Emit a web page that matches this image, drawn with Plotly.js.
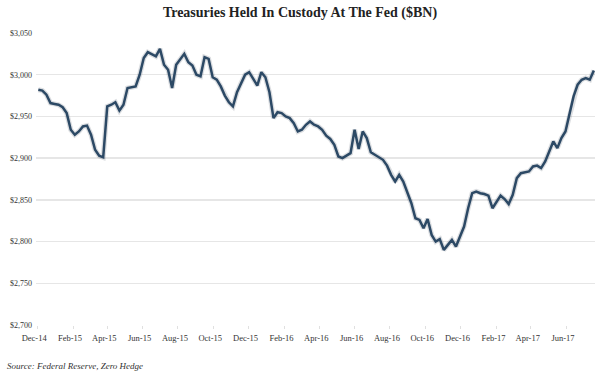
<!DOCTYPE html>
<html>
<head>
<meta charset="utf-8">
<script src="https://cdn.plot.ly/plotly-3.0.1.min.js"></script>
<style>html,body{margin:0;padding:0;background:#fff;}#chart{width:600px;height:382px;}</style>
</head>
<body>
<div id="chart"></div>
<script>
const dates = [
"2014-12-03","2014-12-10","2014-12-17","2014-12-24","2014-12-31","2015-01-07","2015-01-14","2015-01-21","2015-01-28","2015-02-04",
"2015-02-11","2015-02-18","2015-02-25","2015-03-04","2015-03-11","2015-03-18","2015-03-25","2015-04-01","2015-04-08","2015-04-15",
"2015-04-22","2015-04-29","2015-05-06","2015-05-13","2015-05-20","2015-05-27","2015-06-03","2015-06-10","2015-06-17","2015-06-24",
"2015-07-01","2015-07-08","2015-07-15","2015-07-22","2015-07-29","2015-08-05","2015-08-12","2015-08-19","2015-08-26","2015-09-02",
"2015-09-09","2015-09-16","2015-09-23","2015-09-30","2015-10-07","2015-10-14","2015-10-21","2015-10-28","2015-11-04","2015-11-11",
"2015-11-18","2015-11-25","2015-12-02","2015-12-09","2015-12-16","2015-12-23","2015-12-30","2016-01-06","2016-01-13","2016-01-20",
"2016-01-27","2016-02-03","2016-02-10","2016-02-17","2016-02-24","2016-03-02","2016-03-09","2016-03-16","2016-03-23","2016-03-30",
"2016-04-06","2016-04-13","2016-04-20","2016-04-27","2016-05-04","2016-05-11","2016-05-18","2016-05-25","2016-06-01","2016-06-08",
"2016-06-15","2016-06-22","2016-06-29","2016-07-06","2016-07-13","2016-07-20","2016-07-27","2016-08-03","2016-08-10","2016-08-17",
"2016-08-24","2016-08-31","2016-09-07","2016-09-14","2016-09-21","2016-09-28","2016-10-05","2016-10-12","2016-10-19","2016-10-26",
"2016-11-02","2016-11-09","2016-11-16","2016-11-23","2016-11-30","2016-12-07","2016-12-14","2016-12-21","2016-12-28","2017-01-04",
"2017-01-11","2017-01-18","2017-01-25","2017-02-01","2017-02-08","2017-02-15","2017-02-22","2017-03-01","2017-03-08","2017-03-15",
"2017-03-22","2017-03-29","2017-04-05","2017-04-12","2017-04-19","2017-04-26","2017-05-03","2017-05-10","2017-05-17","2017-05-24",
"2017-05-31","2017-06-07","2017-06-14","2017-06-21","2017-06-28","2017-07-05","2017-07-12","2017-07-19"
];
const holdings = [
2982,2981,2976,2966,2965,2964,2961,2954,2934,2928,
2932,2938,2939,2928,2910,2903,2901,2962,2964,2967,
2957,2964,2984,2985,2986,3000,3020,3027,3024,3022,
3031,3012,3006,2984,3012,3018,3025,3015,3011,3000,
2998,3021,3019,2997,2994,2986,2975,2967,2962,2979,
2990,3000,3003,2995,2987,3003,2997,2979,2948,2955,
2954,2950,2948,2942,2932,2934,2940,2944,2940,2938,
2934,2927,2923,2916,2902,2900,2903,2906,2934,2911,
2932,2924,2907,2904,2902,2898,2891,2880,2872,2880,
2872,2858,2846,2828,2826,2816,2827,2808,2800,2803,
2790,2796,2802,2794,2806,2818,2840,2858,2860,2858,
2857,2855,2840,2848,2855,2851,2845,2856,2876,2882,
2883,2884,2890,2891,2888,2896,2908,2920,2912,2924,
2932,2952,2974,2988,2994,2996,2994,3005
];
const tickDates = ["2014-12-01","2015-02-01","2015-04-01","2015-06-01","2015-08-01","2015-10-01","2015-12-01",
"2016-02-01","2016-04-01","2016-06-01","2016-08-01","2016-10-01","2016-12-01","2017-02-01","2017-04-01","2017-06-01"];
const tickLabels = ["Dec-14","Feb-15","Apr-15","Jun-15","Aug-15","Oct-15","Dec-15",
"Feb-16","Apr-16","Jun-16","Aug-16","Oct-16","Dec-16","Feb-17","Apr-17","Jun-17"];
const yTicks = [2700,2750,2800,2850,2900,2950,3000,3050];
const yLabels = ["$2,700","$2,750","$2,800","$2,850","$2,900","$2,950","$3,000","$3,050"];

const serif = "Liberation Serif, Times New Roman, serif";

const traces = [
  {x: dates, y: holdings, type: "scatter", mode: "lines",
   line: {color: "rgba(60,70,90,0.18)", width: 5, shape: "linear"}, hoverinfo: "skip", showlegend: false},
  {x: dates, y: holdings, type: "scatter", mode: "lines",
   line: {color: "#2c4965", width: 2.5, shape: "linear"}, showlegend: false}
];

const layout = {
  width: 600, height: 382,
  margin: {l: 36, r: 5, t: 33, b: 57, pad: 0},
  paper_bgcolor: "#ffffff", plot_bgcolor: "#ffffff",
  showlegend: false,
  title: {text: "<b>Treasuries Held In Custody At The Fed ($BN)</b>",
          font: {family: serif, size: 14, color: "#222"},
          x: 0.5, xref: "container", xanchor: "center", y: 0.968, yref: "container", yanchor: "middle"},
  xaxis: {type: "date", range: ["2014-11-29", "2017-07-21"],
          tickmode: "array", tickvals: tickDates, ticktext: tickLabels,
          ticklabelshift: -3,
          tickfont: {family: serif, size: 8.5, color: "#333"},
          showgrid: false, zeroline: false, showline: false,
          ticks: "outside", ticklen: 3, tickcolor: "#e0e0e0", ticklabelstandoff: 2},
  yaxis: {range: [2700, 3050], tickmode: "array", tickvals: yTicks, ticktext: yLabels,
          tickfont: {family: serif, size: 8, color: "#333"},
          showgrid: true, gridcolor: "#e6e6e6", gridwidth: 1.5,
          zeroline: false, showline: false, ticks: "", ticklabelstandoff: 3},
  annotations: [
    {text: "<i>Source: Federal Reserve, Zero Hedge</i>", xref: "paper", yref: "paper",
     x: 0, y: 0, xanchor: "left", yanchor: "middle", xshift: -31, yshift: -41,
     showarrow: false, font: {family: serif, size: 9, color: "#333"}}
  ]
};

Plotly.newPlot("chart", traces, layout, {displayModeBar: false, staticPlot: true});
</script>
</body>
</html>
